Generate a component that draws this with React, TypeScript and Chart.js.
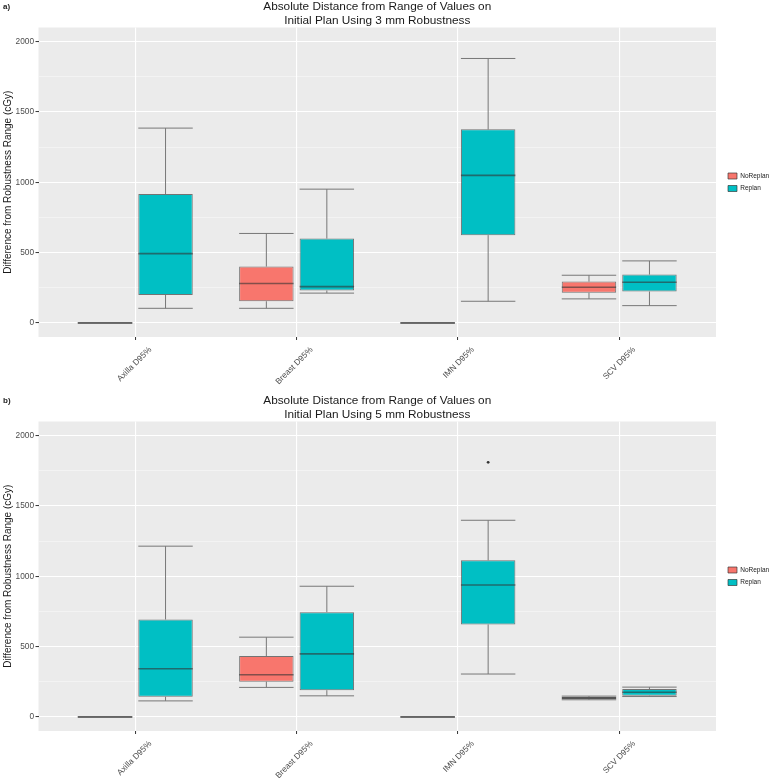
import React, { useEffect, useRef } from 'react';
import { Chart, registerables } from 'chart.js';

Chart.register(...registerables);

// ---------- data ----------
const categories = ['Axilla D95%', 'Breast D95%', 'IMN D95%', 'SCV D95%'];
const seriesNames = ['NoReplan', 'Replan'];
const seriesColors = ['#F8766D', '#00BFC4'];
const yMajorTicks = [0, 500, 1000, 1500, 2000];
const yMinorTicks = [250, 750, 1250, 1750];
const yRange = [-100, 2100];
const yAxisTitle = 'Difference from Robustness Range (cGy)';

const titleA = ['Absolute Distance from Range of Values on', 'Initial Plan Using 3 mm Robustness'];
const titleB = ['Absolute Distance from Range of Values on', 'Initial Plan Using 5 mm Robustness'];

// each entry: [lower whisker, Q1, median, Q3, upper whisker]
const noReplan3mm = [
  [0, 0, 0, 0, 0],
  [104, 154, 280, 401, 636],
  [0, 0, 0, 0, 0],
  [171, 214, 254, 294, 339],
];
const replan3mm = [
  [104, 199, 493, 916, 1385],
  [212, 230, 258, 600, 951],
  [154, 624, 1049, 1376, 1880],
  [123, 223, 289, 344, 441],
];
const noReplan5mm = [
  [0, 0, 0, 0, 0],
  [210, 250, 300, 433, 567],
  [0, 0, 0, 0, 0],
  [122, 128, 135, 142, 148],
];
const replan5mm = [
  [114, 143, 343, 693, 1214],
  [150, 190, 448, 745, 929],
  [305, 657, 938, 1114, 1398],
  [145, 150, 175, 198, 212],
];
const noOutliers = [[], [], [], []];
const replan5mmOutliers = [[], [], [1810], []];

// ---------- styling ----------
const FAMILY = '"Liberation Sans", Arial, Helvetica, sans-serif';

const panelBg = {
  id: 'panelBg',
  beforeDraw(chart: any) {
    const { ctx, chartArea } = chart;
    ctx.save();
    ctx.fillStyle = '#EBEBEB';
    ctx.fillRect(chartArea.left, chartArea.top, chartArea.width, chartArea.height);
    ctx.restore();
  },
};

const boxStats = {
  id: 'boxStats',
  beforeDatasetsDraw(chart: any) {
    const ctx = chart.ctx;
    const ys = chart.scales.y;
    ctx.save();
    ctx.strokeStyle = '#777777';
    ctx.lineWidth = 1;
    chart.data.datasets.forEach((ds: any, di: number) => {
      const meta = chart.getDatasetMeta(di);
      ds.stats.forEach((s: number[], i: number) => {
        const el = meta.data[i];
        if (!el) return;
        const { x, width } = el.getProps(['x', 'width'], true);
        const [lo, q1, , q3, hi] = s;
        const yLo = ys.getPixelForValue(lo);
        const yHi = ys.getPixelForValue(hi);
        ctx.beginPath();
        ctx.moveTo(x, yLo);
        ctx.lineTo(x, ys.getPixelForValue(q1));
        ctx.moveTo(x, ys.getPixelForValue(q3));
        ctx.lineTo(x, yHi);
        ctx.moveTo(x - width / 2, yLo);
        ctx.lineTo(x + width / 2, yLo);
        ctx.moveTo(x - width / 2, yHi);
        ctx.lineTo(x + width / 2, yHi);
        ctx.stroke();
      });
    });
    ctx.restore();
  },
  afterDatasetsDraw(chart: any) {
    const ctx = chart.ctx;
    const ys = chart.scales.y;
    ctx.save();
    chart.data.datasets.forEach((ds: any, di: number) => {
      const meta = chart.getDatasetMeta(di);
      ds.stats.forEach((s: number[], i: number) => {
        const el = meta.data[i];
        if (!el) return;
        const { x, width } = el.getProps(['x', 'width'], true);
        const yMed = ys.getPixelForValue(s[2]);
        ctx.strokeStyle = 'rgba(51,51,51,0.6)';
        ctx.lineWidth = 1.6;
        ctx.beginPath();
        ctx.moveTo(x - width / 2, yMed);
        ctx.lineTo(x + width / 2, yMed);
        ctx.stroke();
        (ds.outliers[i] || []).forEach((v: number) => {
          ctx.fillStyle = '#333333';
          ctx.beginPath();
          ctx.arc(x, ys.getPixelForValue(v), 1.4, 0, Math.PI * 2);
          ctx.fill();
        });
      });
    });
    ctx.restore();
  },
};

type PanelProps = {
  tag: string;
  titleLines: string[];
  noRep: number[][];
  rep: number[][];
  noRepOut: number[][];
  repOut: number[][];
  top: number;
  height: number;
};

function Panel({ tag, titleLines, noRep, rep, noRepOut, repOut, top, height }: PanelProps) {
  const ref = useRef<HTMLCanvasElement>(null);

  useEffect(() => {
    const canvas = ref.current;
    if (!canvas) return;
    const xAxisHeight = height - 337;
    const isMajor = (v: number) => yMajorTicks.includes(v);
    const chart = new Chart(canvas, {
      type: 'bar',
      data: {
        labels: categories,
        datasets: [
          {
            label: seriesNames[0],
            data: noRep.map((s) => [s[1], s[3]]),
            backgroundColor: seriesColors[0],
            borderColor: 'rgba(51,51,51,0.65)',
            borderWidth: 1,
            borderSkipped: false,
            categoryPercentage: 0.75,
            barPercentage: 0.9,
            stats: noRep,
            outliers: noRepOut,
          } as any,
          {
            label: seriesNames[1],
            data: rep.map((s) => [s[1], s[3]]),
            backgroundColor: seriesColors[1],
            borderColor: 'rgba(51,51,51,0.65)',
            borderWidth: 1,
            borderSkipped: false,
            categoryPercentage: 0.75,
            barPercentage: 0.9,
            stats: rep,
            outliers: repOut,
          } as any,
        ],
      },
      options: {
        responsive: false,
        animation: false,
        events: [],
        layout: { padding: 0 },
        plugins: {
          tooltip: { enabled: false },
          title: {
            display: true,
            text: titleLines,
            fullSize: false,
            color: '#1a1a1a',
            font: { family: FAMILY, size: 11.8, weight: 'normal', lineHeight: 1.145 },
            padding: { top: 0, bottom: 0.5 },
          },
          legend: {
            position: 'right',
            align: 'center',
            fullSize: false,
            maxWidth: 55,
            labels: {
              boxWidth: 9,
              boxHeight: 6,
              padding: 6,
              color: '#1a1a1a',
              font: { family: FAMILY, size: 6.5 },
            },
          },
        },
        scales: {
          x: {
            type: 'category',
            offset: false,
            grid: {
              offset: false,
              color: '#ffffff',
              lineWidth: 1.1,
              tickColor: '#333333',
              tickLength: 3,
              tickWidth: 1,
            },
            border: { display: false },
            ticks: {
              autoSkip: false,
              minRotation: 45,
              maxRotation: 45,
              padding: 5,
              labelOffset: 15,
              color: '#4d4d4d',
              font: { family: FAMILY, size: 8.3 },
            },
            afterBuildTicks: (s: any) => {
              s._startValue = -0.6;
              s._valueRange = categories.length - 1 + 1.2;
            },
            afterFit: (s: any) => {
              s.height = xAxisHeight;
            },
          },
          y: {
            type: 'linear',
            min: yRange[0],
            max: yRange[1],
            afterBuildTicks: (s: any) => {
              s.ticks = [...yMajorTicks, ...yMinorTicks]
                .sort((a, b) => a - b)
                .map((v) => ({ value: v }));
            },
            ticks: {
              callback: (v: any) => (isMajor(Number(v)) ? String(v) : ''),
              color: '#4d4d4d',
              padding: 1.5,
              font: { family: FAMILY, size: 8.3 },
            },
            grid: {
              color: (c: any) => (isMajor(c.tick?.value) ? '#ffffff' : 'rgba(255,255,255,0.75)'),
              lineWidth: (c: any) => (isMajor(c.tick?.value) ? 1.1 : 0.55),
              tickColor: (c: any) => (isMajor(c.tick?.value) ? '#333333' : 'rgba(0,0,0,0)'),
              tickLength: 3,
              tickWidth: 1,
            },
            border: { display: false },
            title: {
              display: true,
              text: yAxisTitle,
              color: '#1a1a1a',
              font: { family: FAMILY, size: 10 },
              padding: { top: 2, bottom: 0 },
            },
            afterFit: (s: any) => {
              s.width = 38.5;
            },
          },
          gap: {
            type: 'linear',
            position: 'right',
            display: true,
            grid: { display: false, drawTicks: false },
            ticks: { display: false },
            border: { display: false },
            afterFit: (s: any) => {
              s.width = 6;
            },
          },
        },
      } as any,
      plugins: [panelBg, boxStats],
    });
    return () => chart.destroy();
  }, []);

  return (
    <div style={{ position: 'absolute', left: 0, top, width: 777, height }}>
      <canvas ref={ref} width={777} height={height} style={{ display: 'block', width: 777, height }} />
      <div
        style={{
          position: 'absolute',
          left: 3,
          top: 2,
          font: `bold 8px ${FAMILY}`,
          color: '#222',
          lineHeight: '10px',
        }}
      >
        {tag}
      </div>
    </div>
  );
}

export default function App() {
  return (
    <div style={{ position: 'absolute', left: 0, top: 0, width: 777, height: 778, overflow: 'hidden', background: '#fff' }}>
      <Panel tag="a)" titleLines={titleA} noRep={noReplan3mm} rep={replan3mm} noRepOut={noOutliers} repOut={noOutliers} top={0} height={394} />
      <Panel tag="b)" titleLines={titleB} noRep={noReplan5mm} rep={replan5mm} noRepOut={noOutliers} repOut={replan5mmOutliers} top={394} height={384} />
    </div>
  );
}
